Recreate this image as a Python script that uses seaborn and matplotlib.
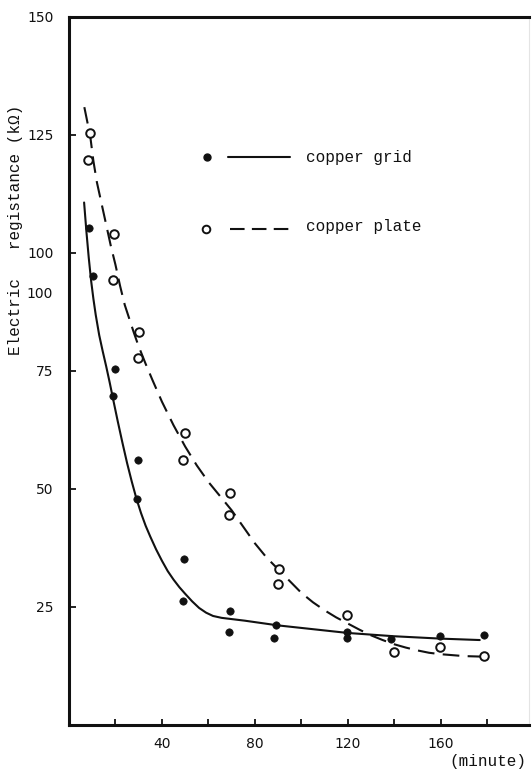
import matplotlib
matplotlib.use("Agg")
import matplotlib.pyplot as plt
import seaborn as sns

# measured points (minute, kOhm)
grid_x = [8.6, 10.2, 19.8, 19.0, 29.8, 29.1, 49.6, 49.2, 69.5, 68.9, 89.3, 88.3, 119.7, 119.7, 138.8, 159.6, 178.6]
grid_y = [105.4, 95.1, 75.4, 69.8, 56.1, 47.8, 35.2, 26.3, 24.1, 19.8, 21.2, 18.4, 19.8, 18.4, 18.2, 18.9, 19.1]

plate_x = [9.0, 8.3, 19.2, 19.0, 30.3, 29.8, 49.9, 49.2, 69.3, 68.8, 90.5, 90.0, 119.7, 139.8, 159.6, 178.6]
plate_y = [125.5, 119.6, 104.1, 94.2, 83.3, 77.7, 61.8, 56.2, 49.1, 44.5, 33.0, 29.8, 23.4, 15.5, 16.5, 14.7]

# hand-drawn fitted curves
grid_curve_x = [6.5, 7.5, 8.5, 9.5, 10.5, 11.5, 13, 14.5, 16, 17.5, 19, 21, 23, 25, 27, 29, 31, 33, 35,
                37.5, 40, 42.5, 45, 47.5, 50, 53, 56, 59, 62, 65.7, 75.7, 90, 105, 120, 140, 160, 176.8]
grid_curve_y = [110.7, 104.5, 99.0, 94.2, 90.3, 86.9, 82.6, 79.2, 76.0, 72.6, 69.0, 64.3, 59.8, 55.5, 51.6,
                48.0, 44.9, 42.2, 39.9, 37.2, 34.8, 32.6, 30.8, 29.2, 27.8, 26.2, 24.8, 23.8, 23.1, 22.7,
                22.1, 21.1, 20.3, 19.5, 18.8, 18.3, 18.0]

plate_curve_x = [6.6, 8, 9, 10.5, 12, 14, 16, 18, 20, 22, 24, 26, 28, 30, 33, 36, 40, 45, 50, 55, 60, 65,
                 70, 75, 80, 85, 90, 95, 100, 105, 110, 115, 120, 125, 130, 135, 140, 145, 150, 155, 160,
                 165, 170, 177]
plate_curve_y = [130.9, 127.5, 125.3, 119.5, 115.0, 110.5, 106.0, 101.5, 97.5, 93.0, 89.0, 86.0, 83.0, 80.2,
                 76.5, 73.0, 68.5, 63.5, 59.0, 55.0, 51.5, 48.5, 45.5, 42.0, 38.5, 35.5, 33.0, 30.5, 28.0,
                 26.0, 24.3, 22.8, 21.5, 20.2, 19.0, 18.0, 17.1, 16.4, 15.8, 15.3, 15.0, 14.8, 14.6, 14.5]

y_ticks = [25, 50, 75, 100, 125, 150]
x_ticks = [20, 40, 60, 80, 100, 120, 140, 160, 180]
x_labels = ["", "40", "", "80", "", "120", "", "160", ""]

sns.set_style("ticks")
plt.rcParams["font.family"] = ["DejaVu Sans"]
mono = ["Liberation Mono", "DejaVu Sans Mono"]
ink = "#111111"

fig = plt.figure(figsize=(5.32, 7.73), dpi=100)
ax = fig.add_axes([69 / 532, 48 / 773, 460 / 532, 708 / 773])

sns.lineplot(x=grid_curve_x, y=grid_curve_y, sort=False, color=ink, linewidth=1.5, ax=ax)
sns.lineplot(x=plate_curve_x, y=plate_curve_y, sort=False, color=ink, linewidth=1.5, ax=ax)
ax.lines[-1].set_dashes((8, 4))

sns.scatterplot(x=grid_x, y=grid_y, color=ink, s=28, edgecolor=ink, linewidth=0.5, ax=ax, zorder=3)
sns.scatterplot(x=plate_x, y=plate_y, s=38, facecolor="white", edgecolor=ink, linewidth=1.4, ax=ax, zorder=3)

ax.set_xlim(0, 198)
ax.set_ylim(0, 150)

for side in ["left", "bottom", "top"]:
    ax.spines[side].set_linewidth(2.2)
    ax.spines[side].set_color(ink)
ax.spines["right"].set_linewidth(0.8)
ax.spines["right"].set_color("#e4e4e4")

ax.set_yticks(y_ticks)
ax.set_yticklabels([str(v) for v in y_ticks])
ax.set_xticks(x_ticks)
ax.set_xticklabels(x_labels)
ax.tick_params(axis="y", direction="in", length=5, width=1.3, pad=11, labelsize=10, colors=ink)
ax.tick_params(axis="x", direction="in", length=4, width=1.3, pad=9, labelsize=10, colors=ink)

# stray duplicated label in the original scan
ax.text(-0.035, 91.3, "100", transform=ax.get_yaxis_transform(), ha="right", va="center",
        fontsize=10, color=ink)

ax.set_ylabel("Electric   registance (kΩ)", family=mono, fontsize=11.5, color=ink)
ax.yaxis.set_label_coords(-0.100, 0.70)
ax.set_xlabel("(minute)", family=mono, fontsize=11.5, color=ink)
ax.xaxis.set_label_coords(0.911, -0.041)

# legend drawn in axes fraction
ax.plot([0.300], [0.802], "o", transform=ax.transAxes, color=ink, ms=5)
ax.plot([0.346, 0.480], [0.802, 0.802], transform=ax.transAxes, color=ink, lw=1.5)
ax.text(0.515, 0.802, "copper grid", transform=ax.transAxes, va="center", family=mono, fontsize=11.5, color=ink)
ax.plot([0.298], [0.7006], "o", transform=ax.transAxes, mfc="white", mec=ink, mew=1.4, ms=5.5)
ax.plot([0.350, 0.480], [0.7006, 0.7006], transform=ax.transAxes, color=ink, lw=1.5, dashes=(7, 3.5))
ax.text(0.515, 0.704, "copper plate", transform=ax.transAxes, va="center", family=mono, fontsize=11.5, color=ink)

fig.savefig("out.png", dpi=100)
plt.close(fig)
